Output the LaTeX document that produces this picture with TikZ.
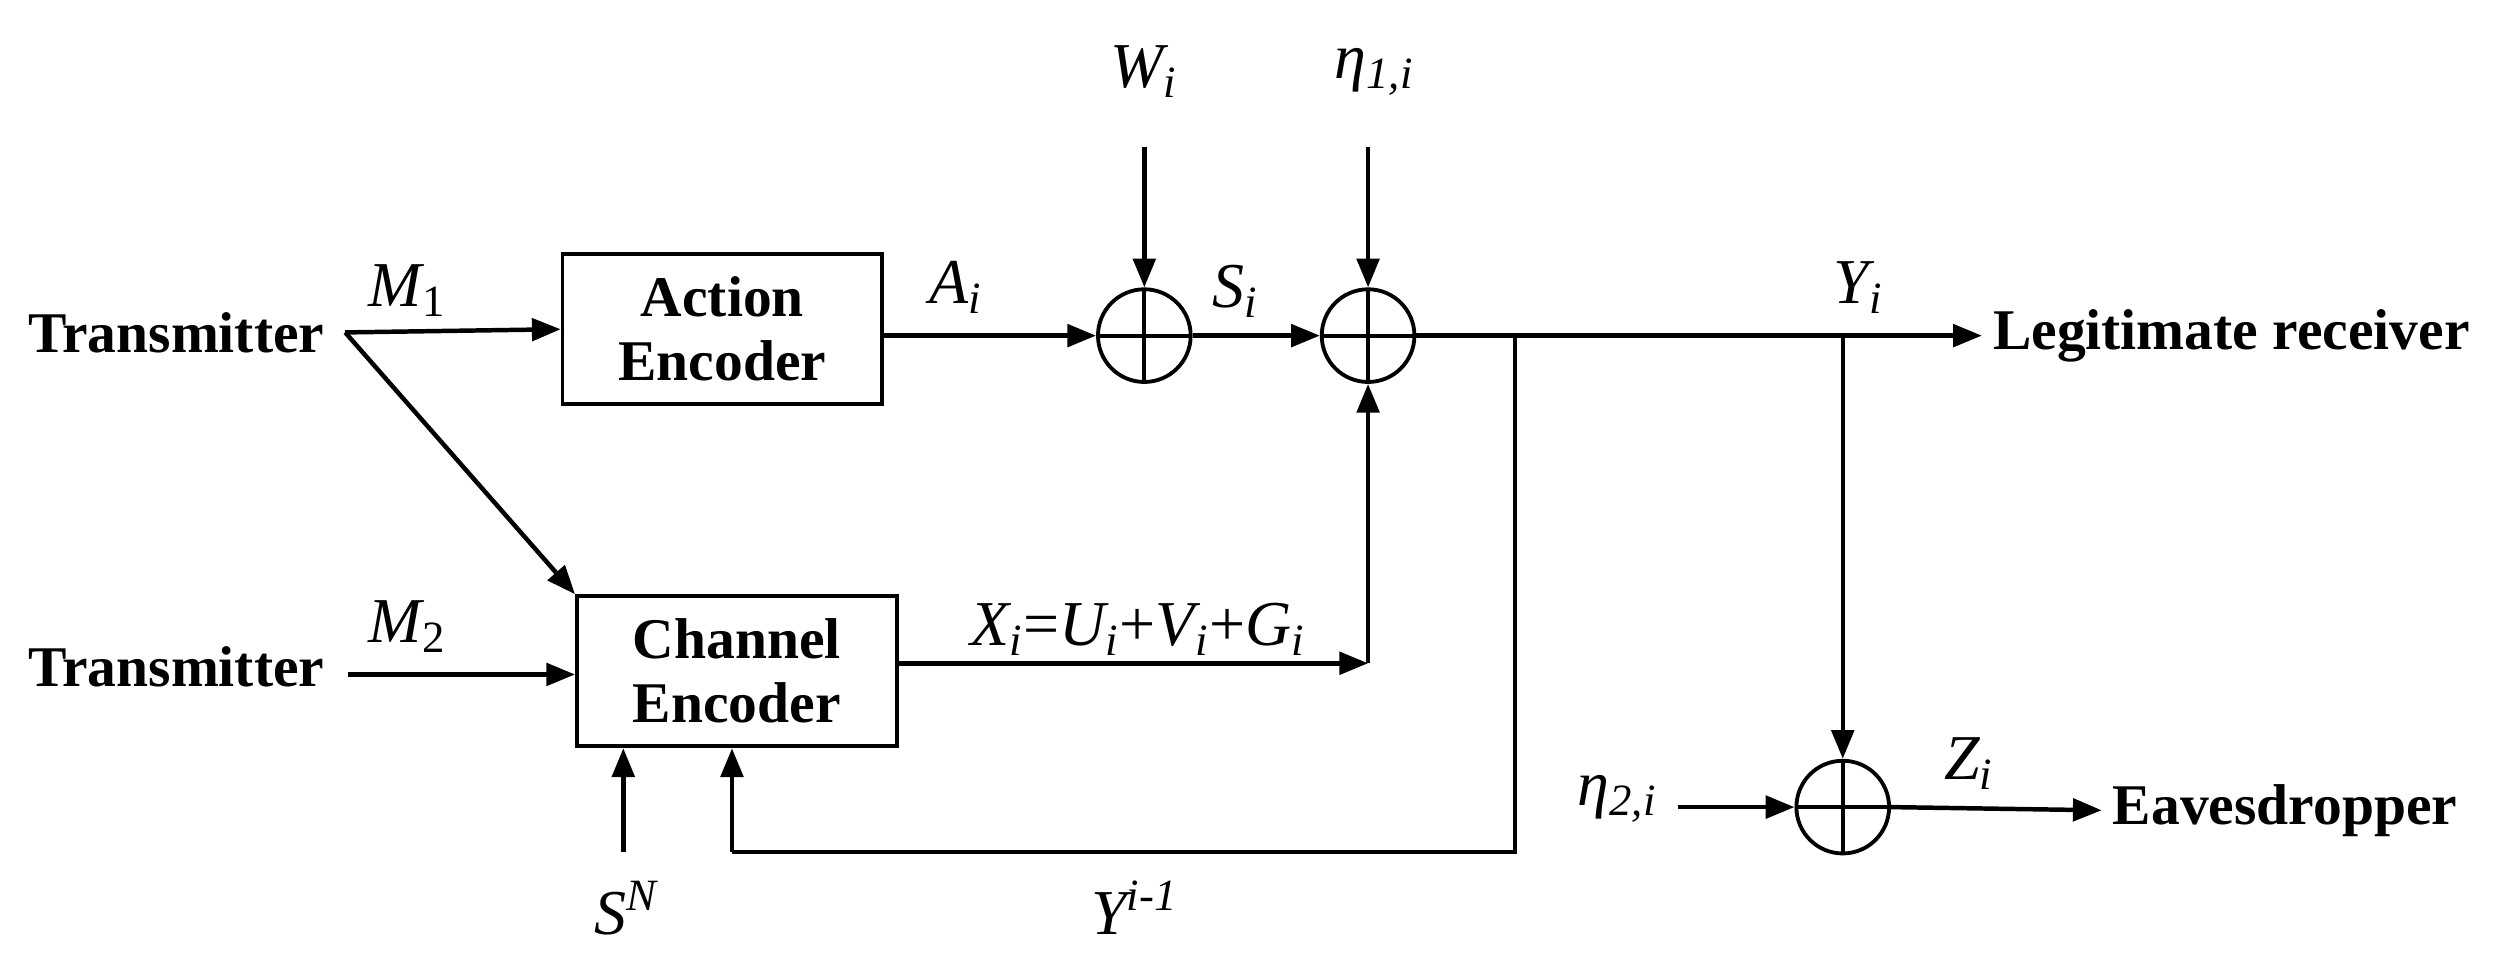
\documentclass[tikz,border=0pt]{standalone}
\usepackage{fontspec}
\setmainfont{Liberation Serif}
\usetikzlibrary{arrows.meta}
\begin{document}
\begin{tikzpicture}[x=0.5pt,y=-0.5pt,
  every node/.style={font=\fontsize{18}{20}\selectfont},
  lab/.style={font=\fontsize{20}{22}\selectfont\itshape},
  bold/.style={font=\fontsize{18}{20}\selectfont\bfseries},
  box/.style={draw,line width=1.2pt,minimum width=100pt,minimum height=47pt,align=center,inner sep=0pt,font=\fontsize{18}{20}\selectfont\bfseries},
  add/.style={draw,circle,line width=1.2pt,minimum size=29pt,inner sep=0pt,
    path picture={\draw[line width=1.2pt] (path picture bounding box.north)--(path picture bounding box.south) (path picture bounding box.west)--(path picture bounding box.east);}},
  ar/.style={line width=1.4pt,-{Triangle[length=9pt,width=7pt]}},
  ln/.style={line width=1.4pt}]
\useasboundingbox (0,0) rectangle (1568,610);
\node[bold,anchor=east] (t1) at (210,208) {Transmitter};
\node[bold,anchor=east] (t2) at (210,417) {Transmitter};
\node[box] (ae) at (452,206) {Action\\Encoder};
\node[box] (ce) at (461,420) {Channel\\Encoder};
\node[add] (a1) at (716,210) {};
\node[add] (a2) at (856,210) {};
\node[add] (a3) at (1153,505) {};
\node[lab] (w) at (716,45) {W\textsubscript{i}};
\node[lab] (eta1) at (860,45) {η\textsubscript{1,i}};
\node[lab] (eta2) at (1012,500) {η\textsubscript{2,i}};
\node[bold,anchor=west] (lr) at (1240,210) {Legitimate receiver};
\node[bold,anchor=west] (ev) at (1315,507) {Eavesdropper};
\coordinate (w0) at (716,92);
\coordinate (e0) at (856,92);
\coordinate (m1s) at (216,208);
\coordinate (m2s) at (218,422);
\coordinate (tap1) at (948,210);
\coordinate (tap2) at (1153,210);
\coordinate (fb1) at (948,533);
\coordinate (fb2) at (458,533);
\coordinate (sn) at (390,533);
\coordinate (xc) at (856,415);
\coordinate (e2s) at (1050,505);
% connectors
\draw[ar] (m1s) -- (ae.west);
\draw[ar] (m1s) -- (ce.north west);
\draw[ar] (m2s) -- (m2s-|ce.west);
\draw[ar] (ae.east|-a1) -- (a1.west);
\draw[ar] (w0) -- (a1.north);
\draw[ar] (a1.east) -- (a2.west);
\draw[ar] (e0) -- (a2.north);
\draw[ar] (a2.east) -- (lr.west);
\draw[ln] (tap1) -- (fb1) -- (fb2);
\draw[ar] (fb2) -- (fb2|-ce.south);
\draw[ar] (sn) -- (sn|-ce.south);
\draw[ar] (ce.east|-xc) -- (xc);
\draw[ar] (xc) -- (a2.south);
\draw[ar] (tap2) -- (a3.north);
\draw[ar] (e2s) -- (a3.west);
\draw[ar] (a3.east) -- (ev.west);
% labels
\node[lab] at (255,182) {M\textsubscript{\upshape 1}};
\node[lab] at (255,392) {M\textsubscript{\upshape 2}};
\node[lab] at (598,180) {A\textsubscript{i}};
\node[lab] at (773,182) {S\textsubscript{i}};
\node[lab] at (1163,180) {Y\textsubscript{i}};
\node[lab] at (1232,478) {Z\textsubscript{i}};
\node[lab] at (712,394) {X\textsubscript{i}\upshape =\itshape U\textsubscript{i}\upshape +\itshape V\textsubscript{i}\upshape +\itshape G\textsubscript{i}};
\node[lab] at (392,568) {S\textsuperscript{N}};
\node[lab] at (710,568) {Y\textsuperscript{i-1}};
\end{tikzpicture}
\end{document}
